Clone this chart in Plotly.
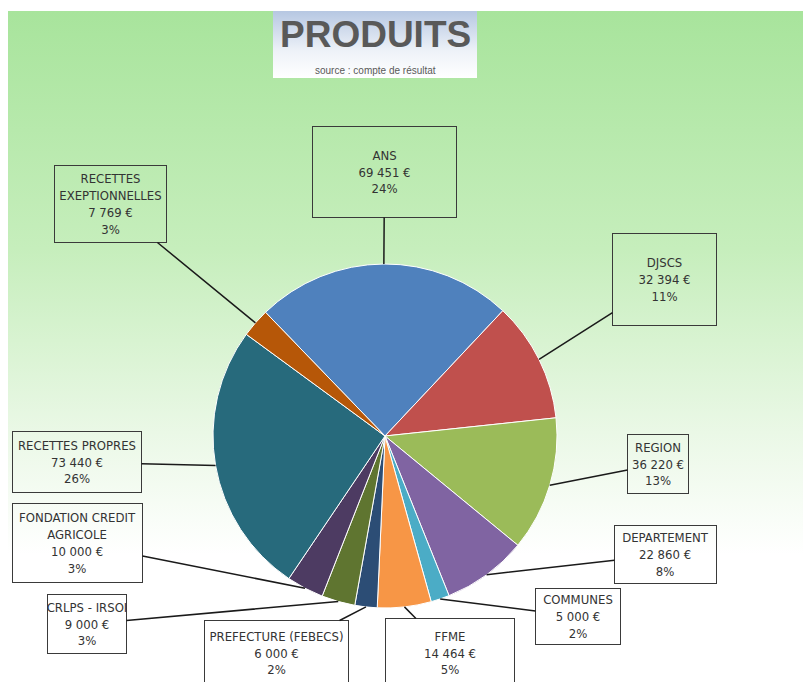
import base64
import math
import plotly.graph_objects as go

# ---------------- data ----------------
categories = ["ANS", "DJSCS", "REGION", "DEPARTEMENT", "COMMUNES", "FFME",
              "PREFECTURE (FEBECS)", "CRLPS - IRSOI", "FONDATION CREDIT AGRICOLE",
              "RECETTES PROPRES", "RECETTES EXEPTIONNELLES"]
label_names = ["ANS", "DJSCS", "REGION", "DEPARTEMENT", "COMMUNES", "FFME",
               "PREFECTURE (FEBECS)", "CRLPS - IRSOI", "FONDATION CREDIT<br>AGRICOLE",
               "RECETTES PROPRES", "RECETTES<br>EXEPTIONNELLES"]
values = [69451, 32394, 36220, 22860, 5000, 14464, 6000, 9000, 10000, 73440, 7769]

# ---------------- styles / layout ----------------
colors = ["#4F81BD", "#C0504D", "#9BBB59", "#8064A2", "#4BACC6", "#F79646",
          "#2C4D75", "#5F7530", "#4D3B62", "#276A7C", "#B65708"]
W, H = 811, 682
OFF = 8                              # page body margin: page px = figure px + 8
CX, CY, R = 385 - OFF, 436 - OFF, 172   # pie centre / radius in figure pixels
ROTATION = -44
# label box centre x, centre y, width, height (page pixels)
boxes = [(384.5, 172, 145, 92), (664.5, 279.5, 105, 93), (658, 464, 62, 60),
         (665.5, 554.5, 103, 59), (578, 616.5, 86, 57), (450, 653, 130, 70),
         (276.5, 653, 145, 66), (87, 624, 80, 60), (77.5, 543, 131, 80),
         (77, 462, 130, 62), (110.5, 204, 113, 78)]
LABEL_FONT = "Liberation Sans Narrow, Arial Narrow, DejaVu Sans Condensed, sans-serif"


def grad_uri(stops):
    st = "".join(f"<stop offset='{o}' stop-color='{c}'/>" for o, c in stops)
    svg = ("<svg xmlns='http://www.w3.org/2000/svg' width='100' height='100' "
           "viewBox='0 0 100 100' preserveAspectRatio='none'><defs>"
           f"<linearGradient id='g' x1='0' y1='0' x2='0' y2='1'>{st}</linearGradient>"
           "</defs><rect x='0' y='0' width='100' height='100' fill='url(#g)'/></svg>")
    return "data:image/svg+xml;base64," + base64.b64encode(svg.encode()).decode()


fig = go.Figure(go.Pie(
    labels=categories, values=values, sort=False, direction="clockwise",
    rotation=ROTATION, textinfo="none", hoverinfo="label+value+percent",
    marker=dict(colors=colors, line=dict(color="white", width=1)),
    domain=dict(x=[(CX - R) / W, (CX + R) / W], y=[(H - CY - R) / H, (H - CY + R) / H]),
    showlegend=False,
))

total = sum(values)
annotations = []
cum = 0
for name, v, (bx, by, bw, bh) in zip(label_names, values, boxes):
    bx, by = bx - OFF, by - OFF
    mid = cum + v / 2
    cum += v
    theta = math.radians(ROTATION + 360 * mid / total)
    tx = CX + R * math.sin(theta)
    ty = CY - R * math.cos(theta)
    amount = f"{v:,}".replace(",", " ") + " €"
    pct = f"{round(100 * v / total)}%"
    annotations.append(dict(
        x=tx / W, y=1 - ty / H, xref="paper", yref="paper",
        ax=bx - tx, ay=by - ty, axref="pixel", ayref="pixel",
        text=f"{name}<br>{amount}<br>{pct}",
        showarrow=True, arrowhead=0, arrowwidth=1.5, arrowcolor="#1a1a1a", standoff=0,
        width=bw - 2, height=bh - 2, borderpad=0, align="center", valign="middle",
        bordercolor="#3a3a3a", borderwidth=1, bgcolor="rgba(0,0,0,0)",
        font=dict(family=LABEL_FONT, size=13, color="#333333"),
    ))

annotations.append(dict(
    x=(375 - OFF) / W, y=1 - (35 - OFF) / H, xref="paper", yref="paper", showarrow=False,
    text="<b>PRODUITS</b>", xanchor="center", yanchor="middle",
    font=dict(family="Liberation Sans, Arial, sans-serif", size=37, color="#595959")))
annotations.append(dict(
    x=(375 - OFF) / W, y=1 - (70 - OFF) / H, xref="paper", yref="paper", showarrow=False,
    text="source : compte de résultat", xanchor="center", yanchor="middle",
    font=dict(family="Liberation Sans, Arial, sans-serif", size=10, color="#595959")))

images = [
    dict(source=grad_uri([(0, "#A8E49C"), (0.35, "#C6EEBC"), (0.62, "#EAF8E6"), (0.8, "#FFFFFF"), (1, "#FFFFFF")]),
         xref="paper", yref="paper", x=0, y=1 - (11 - OFF) / H, sizex=1, sizey=(H - 3) / H,
         xanchor="left", yanchor="top", sizing="stretch", layer="below"),
    dict(source=grad_uri([(0, "#B6C7E2"), (0.6, "#EEF2F8"), (1, "#FFFFFF")]),
         xref="paper", yref="paper", x=(273 - OFF) / W, y=1 - (11 - OFF) / H,
         sizex=204 / W, sizey=67 / H,
         xanchor="left", yanchor="top", sizing="stretch", layer="below"),
]

fig.update_layout(
    width=W, height=H, margin=dict(l=0, r=0, t=0, b=0),
    paper_bgcolor="white", plot_bgcolor="white",
    annotations=annotations, images=images, showlegend=False,
)

fig.write_html("out.html", config={"displayModeBar": False})
